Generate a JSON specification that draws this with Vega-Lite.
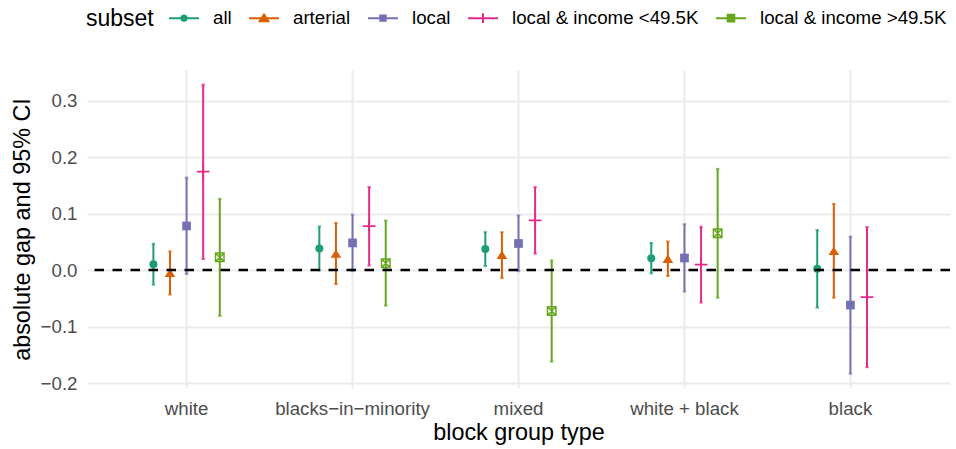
{
  "$schema": "https://vega.github.io/schema/vega-lite/v6.json",
  "width": 863,
  "height": 318,
  "autosize": {"type": "none"},
  "padding": {"left": 87, "top": 70, "right": 6, "bottom": 61},
  "background": "white",
  "config": {
    "view": {"stroke": null},
    "font": "Liberation Sans"
  },
  "data": {
    "values": [
      {"type": "white", "subset": "all", "est": 0.010, "lo": -0.026, "hi": 0.0465},
      {"type": "white", "subset": "arterial", "est": -0.005, "lo": -0.0435, "hi": 0.033},
      {"type": "white", "subset": "local", "est": 0.078, "lo": -0.007, "hi": 0.1635},
      {"type": "white", "subset": "local & income <49.5K", "est": 0.174, "lo": 0.0194, "hi": 0.328},
      {"type": "white", "subset": "local & income >49.5K", "est": 0.0224, "lo": -0.081, "hi": 0.126},
      {"type": "blacks−in−minority", "subset": "all", "est": 0.038, "lo": -0.0006, "hi": 0.077},
      {"type": "blacks−in−minority", "subset": "arterial", "est": 0.029, "lo": -0.025, "hi": 0.0835},
      {"type": "blacks−in−minority", "subset": "local", "est": 0.048, "lo": -0.002, "hi": 0.098},
      {"type": "blacks−in−minority", "subset": "local & income <49.5K", "est": 0.0776, "lo": 0.008, "hi": 0.147},
      {"type": "blacks−in−minority", "subset": "local & income >49.5K", "est": 0.012, "lo": -0.063, "hi": 0.0876},
      {"type": "mixed", "subset": "all", "est": 0.037, "lo": 0.007, "hi": 0.067},
      {"type": "mixed", "subset": "arterial", "est": 0.027, "lo": -0.014, "hi": 0.067},
      {"type": "mixed", "subset": "local", "est": 0.047, "lo": -0.002, "hi": 0.0965},
      {"type": "mixed", "subset": "local & income <49.5K", "est": 0.088, "lo": 0.029, "hi": 0.147},
      {"type": "mixed", "subset": "local & income >49.5K", "est": -0.0725, "lo": -0.162, "hi": 0.017},
      {"type": "white + black", "subset": "all", "est": 0.021, "lo": -0.006, "hi": 0.048},
      {"type": "white + black", "subset": "arterial", "est": 0.020, "lo": -0.0106, "hi": 0.0506},
      {"type": "white + black", "subset": "local", "est": 0.0213, "lo": -0.038, "hi": 0.081},
      {"type": "white + black", "subset": "local & income <49.5K", "est": 0.0094, "lo": -0.0576, "hi": 0.0765},
      {"type": "white + black", "subset": "local & income >49.5K", "est": 0.065, "lo": -0.049, "hi": 0.179},
      {"type": "black", "subset": "all", "est": 0.0022, "lo": -0.0665, "hi": 0.0706},
      {"type": "black", "subset": "arterial", "est": 0.034, "lo": -0.049, "hi": 0.117},
      {"type": "black", "subset": "local", "est": -0.062, "lo": -0.1835, "hi": 0.059},
      {"type": "black", "subset": "local & income <49.5K", "est": -0.048, "lo": -0.172, "hi": 0.076}
    ]
  },
  "layer": [
    {
      "mark": {"type": "rule", "strokeWidth": 2},
      "encoding": {
        "x": {
          "field": "type", "type": "nominal",
          "sort": ["white", "blacks−in−minority", "mixed", "white + black", "black"],
          "scale": {"type": "band", "paddingInner": 0, "paddingOuter": 0.1},
          "title": "block group type",
          "axis": {
            "bandPosition": 0.5,
            "labelAngle": 0,
            "labelFontSize": 18.7,
            "labelColor": "#4D4D4D",
            "labelPadding": 11,
            "ticks": false,
            "domain": false,
            "grid": true,
            "gridColor": "#EBEBEB",
            "gridWidth": 2,
            "titleFontSize": 23.4,
            "titleFontWeight": "normal",
            "titleColor": "black",
            "titlePadding": 4
          }
        },
        "xOffset": {
          "field": "subset", "type": "nominal",
          "scale": {"domain": ["pad1", "pad2", "all", "arterial", "local", "local & income <49.5K", "local & income >49.5K", "pad3", "pad4"], "paddingInner": 0, "paddingOuter": 0.5}
        },
        "y": {
          "field": "lo", "type": "quantitative",
          "scale": {"domain": [-0.2088, 0.354], "nice": false, "zero": false},
          "title": "absolute gap and 95% CI",
          "axis": {
            "values": [-0.2, -0.15, -0.1, -0.05, 0, 0.05, 0.1, 0.15, 0.2, 0.25, 0.3, 0.35],
            "labelExpr": "abs(round(datum.value*20)) % 2 == 0 ? replace(format(datum.value, '.1f'), '-', '−') : ''",
            "labelFontSize": 18.7,
            "labelColor": "#4D4D4D",
            "labelPadding": 10,
            "ticks": false,
            "domain": false,
            "grid": true,
            "gridColor": "#EBEBEB",
            "gridWidth": {"condition": {"test": "abs(round(datum.value*20)) % 2 == 1", "value": 1}, "value": 2},
            "titleFontSize": 23.4,
            "titleFontWeight": "normal",
            "titleColor": "black",
            "titlePadding": 6
          }
        },
        "y2": {"field": "hi"},
        "color": {
          "field": "subset", "type": "nominal",
          "scale": {
            "domain": ["all", "arterial", "local", "local & income <49.5K", "local & income >49.5K"],
            "range": ["#1B9E77", "#D95F02", "#7570B3", "#E7298A", "#66A61E"]
          },
          "legend": {
            "orient": "none",
            "direction": "horizontal",
            "legendX": -1,
            "legendY": -68,
            "title": "subset",
            "titleOrient": "left",
            "titleAnchor": "middle",
            "titleFontSize": 23,
            "titleFontWeight": "normal",
            "titleColor": "black",
            "titlePadding": 14,
            "titleBaseline": "line-top",
            "titleLineHeight": 9,
            "labelFontSize": 18.7,
            "labelColor": "black",
            "labelOffset": 13,
            "columnPadding": 13,
            "symbolSize": 900,
            "symbolStrokeWidth": 2,
            "labelLimit": 400,
            "encode": {
              "symbols": {
                "update": {
                  "shape": {"signal": "datum.value == 'all' ? 'M-1,0H1M-0.17,0A0.17,0.17 0 1,0 0.17,0A0.17,0.17 0 1,0 -0.17,0Z' : datum.value == 'arterial' ? 'M-1,0H1M0,-0.24L0.29,0.21L-0.29,0.21Z' : datum.value == 'local' ? 'M-1,0H1M-0.18,-0.18H0.18V0.18H-0.18Z' : datum.value == 'local & income <49.5K' ? 'M-1,0H1M0,-0.32V0.32' : 'M-1,0H1M-0.22,-0.22H0.22V0.22H-0.22ZM-0.22,-0.22L0.22,0.22M-0.22,0.22L0.22,-0.22'"},
                  "fill": {"signal": "indexof(['all','arterial','local'], datum.value) >= 0 ? scale('color', datum.value) : 'transparent'"},
                  "stroke": {"signal": "scale('color', datum.value)"},
                  "strokeWidth": {"value": 2},
                  "opacity": {"value": 1}
                }
              }
            }
          }
        }
      }
    },
    {
      "mark": {"type": "tick", "orient": "horizontal", "size": 3.5, "thickness": 2},
      "encoding": {
        "x": {"field": "type", "type": "nominal", "sort": ["white", "blacks−in−minority", "mixed", "white + black", "black"]},
        "xOffset": {"field": "subset", "type": "nominal"},
        "y": {"field": "lo", "type": "quantitative"},
        "color": {"field": "subset", "type": "nominal"}
      }
    },
    {
      "mark": {"type": "tick", "orient": "horizontal", "size": 3.5, "thickness": 2},
      "encoding": {
        "x": {"field": "type", "type": "nominal", "sort": ["white", "blacks−in−minority", "mixed", "white + black", "black"]},
        "xOffset": {"field": "subset", "type": "nominal"},
        "y": {"field": "hi", "type": "quantitative"},
        "color": {"field": "subset", "type": "nominal"}
      }
    },
    {
      "transform": [{"filter": "datum.subset == 'all'"}],
      "mark": {"type": "point", "shape": "circle", "filled": true, "size": 64, "opacity": 1, "strokeWidth": 0},
      "encoding": {
        "x": {"field": "type", "type": "nominal", "sort": ["white", "blacks−in−minority", "mixed", "white + black", "black"]},
        "xOffset": {"field": "subset", "type": "nominal"},
        "y": {"field": "est", "type": "quantitative"},
        "color": {"field": "subset", "type": "nominal"}
      }
    },
    {
      "transform": [{"filter": "datum.subset == 'arterial'"}],
      "mark": {"type": "point", "shape": "M0,-0.78L1,0.78L-1,0.78Z", "filled": true, "size": 114, "opacity": 1, "strokeWidth": 0},
      "encoding": {
        "x": {"field": "type", "type": "nominal", "sort": ["white", "blacks−in−minority", "mixed", "white + black", "black"]},
        "xOffset": {"field": "subset", "type": "nominal"},
        "y": {"field": "est", "type": "quantitative"},
        "color": {"field": "subset", "type": "nominal"}
      }
    },
    {
      "transform": [{"filter": "datum.subset == 'local'"}],
      "mark": {"type": "point", "shape": "square", "filled": true, "size": 76, "opacity": 1, "strokeWidth": 0},
      "encoding": {
        "x": {"field": "type", "type": "nominal", "sort": ["white", "blacks−in−minority", "mixed", "white + black", "black"]},
        "xOffset": {"field": "subset", "type": "nominal"},
        "y": {"field": "est", "type": "quantitative"},
        "color": {"field": "subset", "type": "nominal"}
      }
    },
    {
      "transform": [{"filter": "datum.subset == 'local & income <49.5K'"}],
      "mark": {"type": "point", "shape": "M-1,0H1M0,-1V1", "filled": false, "size": 161, "opacity": 1, "strokeWidth": 1.8},
      "encoding": {
        "x": {"field": "type", "type": "nominal", "sort": ["white", "blacks−in−minority", "mixed", "white + black", "black"]},
        "xOffset": {"field": "subset", "type": "nominal"},
        "y": {"field": "est", "type": "quantitative"},
        "color": {"field": "subset", "type": "nominal"}
      }
    },
    {
      "transform": [{"filter": "datum.subset == 'local & income >49.5K'"}],
      "mark": {"type": "point", "shape": "M-1,-1H1V1H-1ZM-1,-1L1,1M-1,1L1,-1", "filled": false, "size": 72, "opacity": 1, "strokeWidth": 1.5},
      "encoding": {
        "x": {"field": "type", "type": "nominal", "sort": ["white", "blacks−in−minority", "mixed", "white + black", "black"]},
        "xOffset": {"field": "subset", "type": "nominal"},
        "y": {"field": "est", "type": "quantitative"},
        "color": {"field": "subset", "type": "nominal"}
      }
    },
    {
      "data": {"values": [{"zero": 0}]},
      "mark": {"type": "rule", "color": "black", "strokeWidth": 2.4, "strokeDash": [9.5, 8.5]},
      "encoding": {
        "y": {"field": "zero", "type": "quantitative"}
      }
    }
  ]
}
